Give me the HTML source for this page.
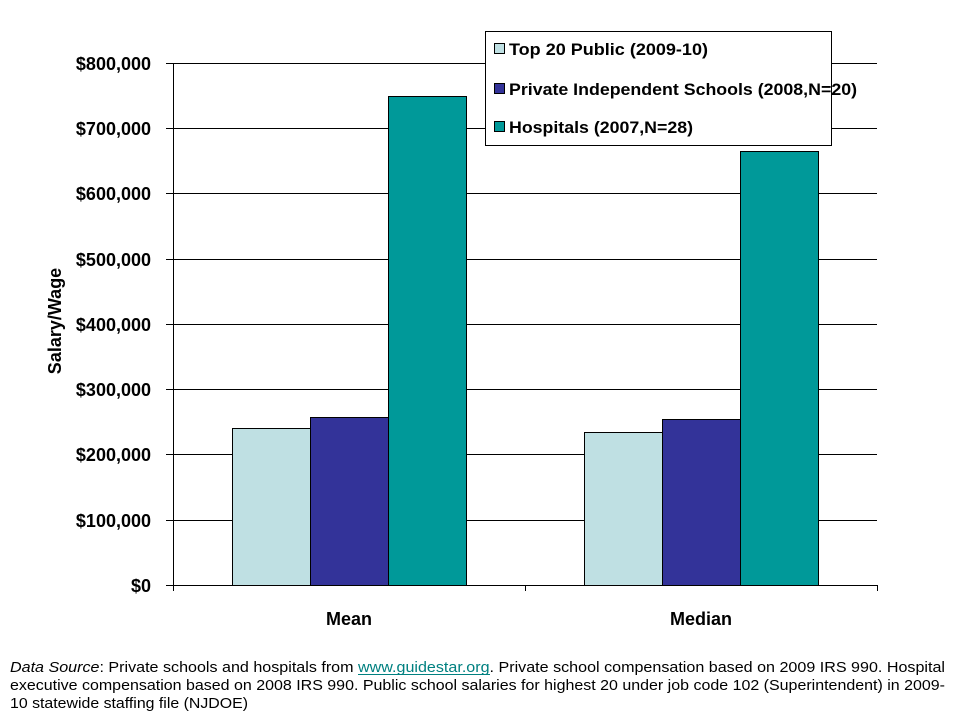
<!DOCTYPE html>
<html><head><meta charset="utf-8"><style>
body{margin:0;background:#fff;width:960px;height:720px;overflow:hidden;position:relative}
svg{position:absolute;left:0;top:0}
.n{font-family:"Liberation Sans",sans-serif;font-weight:bold}
.f{font-family:"Liberation Sans",sans-serif;font-size:14.5px}
</style></head><body>
<svg width="960" height="720">
<g stroke="#000" stroke-width="1">
<line x1="166" y1="63.5" x2="877" y2="63.5"/>
<line x1="166" y1="128.5" x2="877" y2="128.5"/>
<line x1="166" y1="193.5" x2="877" y2="193.5"/>
<line x1="166" y1="259.5" x2="877" y2="259.5"/>
<line x1="166" y1="324.5" x2="877" y2="324.5"/>
<line x1="166" y1="389.5" x2="877" y2="389.5"/>
<line x1="166" y1="454.5" x2="877" y2="454.5"/>
<line x1="166" y1="520.5" x2="877" y2="520.5"/>
<line x1="166" y1="585.5" x2="877" y2="585.5"/>
<line x1="173.5" y1="63" x2="173.5" y2="591"/>
<line x1="525.5" y1="585" x2="525.5" y2="591"/>
<line x1="877.5" y1="585" x2="877.5" y2="591"/>
</g>
<g stroke="#000" stroke-width="1">
<rect x="232.5" y="428.5" width="78" height="157" fill="#bfe0e3"/>
<rect x="310.5" y="417.5" width="78" height="168" fill="#333399"/>
<rect x="388.5" y="96.5" width="78" height="489" fill="#009999"/>
<rect x="584.5" y="432.5" width="78" height="153" fill="#bfe0e3"/>
<rect x="662.5" y="419.5" width="78" height="166" fill="#333399"/>
<rect x="740.5" y="151.5" width="78" height="434" fill="#009999"/>
</g>
<g class="n" font-size="18" text-anchor="end" fill="#000">
<text x="151" y="70">$800,000</text>
<text x="151" y="135">$700,000</text>
<text x="151" y="200">$600,000</text>
<text x="151" y="266">$500,000</text>
<text x="151" y="331">$400,000</text>
<text x="151" y="396">$300,000</text>
<text x="151" y="461">$200,000</text>
<text x="151" y="527">$100,000</text>
<text x="151" y="592">$0</text>
</g>
<g class="n" font-size="18" text-anchor="middle">
<text x="349" y="625">Mean</text>
<text x="701" y="625">Median</text>
<text transform="translate(61,321) rotate(-90)">Salary/Wage</text>
</g>
<rect x="485.5" y="31.5" width="346" height="114" fill="#fff" stroke="#000"/>
<g stroke="#000">
<rect x="494.5" y="43.5" width="10" height="10" fill="#bfe0e3"/>
<rect x="494.5" y="83.5" width="10" height="10" fill="#333399"/>
<rect x="494.5" y="121.5" width="10" height="10" fill="#009999"/>
</g>
<g class="n" font-size="17">
<text x="509" y="55" textLength="199" lengthAdjust="spacingAndGlyphs">Top 20 Public (2009-10)</text>
<text x="509" y="95" textLength="348" lengthAdjust="spacingAndGlyphs">Private Independent Schools (2008,N=20)</text>
<text x="509" y="133" textLength="184" lengthAdjust="spacingAndGlyphs">Hospitals (2007,N=28)</text>
</g>
<g class="f" fill="#000">
<text x="10" y="672" textLength="935" lengthAdjust="spacingAndGlyphs"><tspan font-style="italic">Data Source</tspan>: Private schools and hospitals from <tspan fill="#008080">www.guidestar.org</tspan>. Private school compensation based on 2009 IRS 990. Hospital</text>
<text x="10" y="690" textLength="935" lengthAdjust="spacingAndGlyphs">executive compensation based on 2008 IRS 990. Public school salaries for highest 20 under job code 102 (Superintendent) in 2009-</text>
<text x="10" y="708" textLength="238" lengthAdjust="spacingAndGlyphs">10 statewide staffing file (NJDOE)</text>
</g>
<line x1="358" y1="674.5" x2="490" y2="674.5" stroke="#008080" stroke-width="1"/>
</svg>
</body></html>
